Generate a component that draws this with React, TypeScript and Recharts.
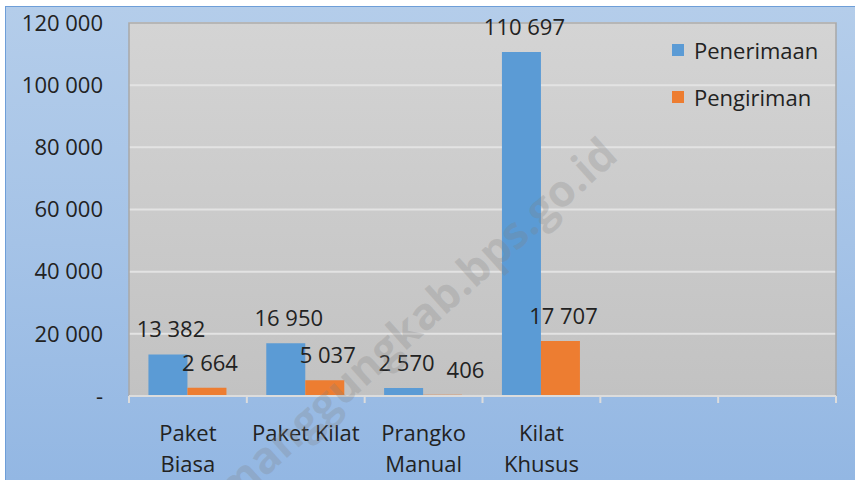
import React from 'react';
import {
  BarChart,
  Bar,
  XAxis,
  YAxis,
  CartesianGrid,
  Legend,
  LabelList,
  ReferenceArea,
} from 'recharts';

// ---- data ----
const categories = ['Paket Biasa', 'Paket Kilat', 'Prangko Manual', 'Kilat Khusus', '', ''];
const penerimaan = [13382, 16950, 2570, 110697, null, null];
const pengiriman = [2664, 5037, 406, 17707, null, null];
const yTicks = [0, 20000, 40000, 60000, 80000, 100000, 120000];
const seriesNames = ['Penerimaan', 'Pengiriman'];

const data = categories.map((c, i) => ({
  name: c,
  penerimaan: penerimaan[i],
  pengiriman: pengiriman[i],
}));

const FONT = '"Open Sans", "Noto Sans", sans-serif';
const FS = 22;
const TEXT = '#222222';
const BLUE = '#5b9bd5';
const ORANGE = '#ed7d31';

const fmt = (v: number) =>
  v === 0 ? '-' : Math.round(v).toLocaleString('en-US').replace(/,/g, ' ');

let ctx: CanvasRenderingContext2D | null = null;
const measure = (s: string) => {
  if (!ctx && typeof document !== 'undefined') {
    ctx = document.createElement('canvas').getContext('2d');
  }
  if (!ctx) return s.length * FS * 0.55;
  ctx.font = `${FS}px "Open Sans", "Noto Sans", sans-serif`;
  return ctx.measureText(s).width;
};

const wrap = (label: string, maxW: number) => {
  const words = String(label).split(' ').filter(Boolean);
  const lines: string[] = [];
  let cur = '';
  words.forEach((w) => {
    const t = cur ? cur + ' ' + w : w;
    if (cur && measure(t) > maxW) {
      lines.push(cur);
      cur = w;
    } else {
      cur = t;
    }
  });
  if (cur) lines.push(cur);
  return lines;
};

const LABEL_RAISE = 26;

const makeLabel = (series: 'penerimaan' | 'pengiriman') => (props: any) => {
  const { x, y, width, value, index } = props;
  if (value == null) return null;
  const w = Number(width);
  let cx = Number(x) + w / 2 + 3;
  const cy = Number(y) - LABEL_RAISE;
  const str = fmt(Number(value));
  if (series === 'pengiriman') {
    // avoid colliding with the neighbouring Penerimaan label
    const other = penerimaan[index];
    if (other != null) {
      const plotBottom = 390;
      const scale = 373 / 120000;
      const otherCy = plotBottom - other * scale - LABEL_RAISE;
      const otherCx = cx - w;
      const otherRight = otherCx + measure(fmt(other)) / 2;
      const myLeft = cx - measure(str) / 2;
      if (Math.abs(otherCy - cy) < 24 && myLeft < otherRight + 12) {
        cx = otherRight + 12 + measure(str) / 2;
      }
    }
  }
  return (
    <text
      x={cx}
      y={cy}
      textAnchor="middle"
      dominantBaseline="central"
      fontSize={FS}
      fontFamily={FONT}
      fill={TEXT}
    >
      {str}
    </text>
  );
};

const CatTick = (props: any) => {
  const { x, y, payload, index, visibleTicksCount } = props;
  const half = payload && payload.offset ? payload.offset : 707 / 6 / 2;
  const isLast = index === (visibleTicksCount ?? 6) - 1;
  const lines = wrap(payload.value, 112);
  return (
    <g>
      <line x1={x - half} x2={x - half} y1={y} y2={y + 7} stroke="#dcdcdc" strokeWidth={2} />
      {isLast && (
        <line x1={x + half} x2={x + half} y1={y} y2={y + 7} stroke="#dcdcdc" strokeWidth={2} />
      )}
      {lines.map((ln, i) => (
        <text
          key={i}
          x={x}
          y={y + 36 + i * 31}
          textAnchor="middle"
          dominantBaseline="central"
          fontSize={FS}
          fontFamily={FONT}
          fill={TEXT}
        >
          {ln}
        </text>
      ))}
    </g>
  );
};

const LegendContent = () => {
  const items = [
    { name: seriesNames[0], color: BLUE },
    { name: seriesNames[1], color: ORANGE },
  ];
  return (
    <div style={{ fontFamily: FONT, fontSize: FS, color: TEXT }}>
      {items.map((it) => (
        <div key={it.name} style={{ height: 47, display: 'flex', alignItems: 'center' }}>
          <span
            style={{
              display: 'inline-block',
              width: 12,
              height: 12,
              background: it.color,
              marginRight: 10,
            }}
          />
          <span>{it.name}</span>
        </div>
      ))}
    </div>
  );
};

export default function App() {
  return (
    <div
      style={{
        position: 'absolute',
        left: 5,
        top: 6,
        width: 850,
        height: 474,
        background: 'linear-gradient(to bottom, #b4cdea 0%, #a5c3e7 50%, #93b7e3 100%)',
        boxShadow: 'inset 1px 1px 0 #6e9ed8',
        overflow: 'hidden',
      }}
    >
      <svg width={0} height={0} style={{ position: 'absolute' }}>
        <defs>
          <linearGradient id="plotGrad" x1="0" y1="0" x2="0" y2="1">
            <stop offset="0%" stopColor="#d4d4d4" />
            <stop offset="100%" stopColor="#c2c2c2" />
          </linearGradient>
        </defs>
      </svg>
      <BarChart
        width={850}
        height={474}
        data={data}
        margin={{ top: 17, right: 19, left: 0, bottom: 0 }}
        barCategoryGap="16.5%"
        barGap={0}
      >
        <CartesianGrid
          vertical={false}
          stroke="#e3e3e3"
          strokeWidth={2}
          fill="url(#plotGrad)"
          fillOpacity={1}
        />
        <XAxis
          dataKey="name"
          height={84}
          interval={0}
          tickLine={false}
          tickSize={0}
          tickMargin={0}
          axisLine={{ stroke: '#dcdcdc', strokeWidth: 2 }}
          tick={<CatTick />}
        />
        <YAxis
          width={124}
          domain={[0, 120000]}
          ticks={yTicks}
          interval={0}
          axisLine={false}
          tickLine={false}
          tickSize={0}
          tickMargin={26}
          tickFormatter={fmt}
          tick={{ fontSize: FS, fontFamily: FONT, fill: TEXT }}
        />
        <ReferenceArea y1={0} y2={120000} fill="none" stroke="#a8a8a8" strokeWidth={1.5} />
        <Legend
          layout="horizontal"
          verticalAlign="middle"
          align="center"
          content={<LegendContent />}
          wrapperStyle={{ top: 20, left: 667, width: 180, height: 94 }}
        />
        <Bar dataKey="penerimaan" name={seriesNames[0]} fill={BLUE} isAnimationActive={false}>
          <LabelList dataKey="penerimaan" content={makeLabel('penerimaan')} />
        </Bar>
        <Bar dataKey="pengiriman" name={seriesNames[1]} fill={ORANGE} isAnimationActive={false}>
          <LabelList dataKey="pengiriman" content={makeLabel('pengiriman')} />
        </Bar>
      </BarChart>
      <svg
        width={850}
        height={474}
        style={{ position: 'absolute', left: 0, top: 0, pointerEvents: 'none' }}
      >
        <text
          x={615}
          y={152}
          textAnchor="end"
          fontSize={44}
          fontWeight="bold"
          fontFamily={FONT}
          fill="#7f7f7f"
          fillOpacity={0.25}
          transform="rotate(-42 615 152)"
        >
          temanggungkab.bps.go.id
        </text>
      </svg>
    </div>
  );
}
